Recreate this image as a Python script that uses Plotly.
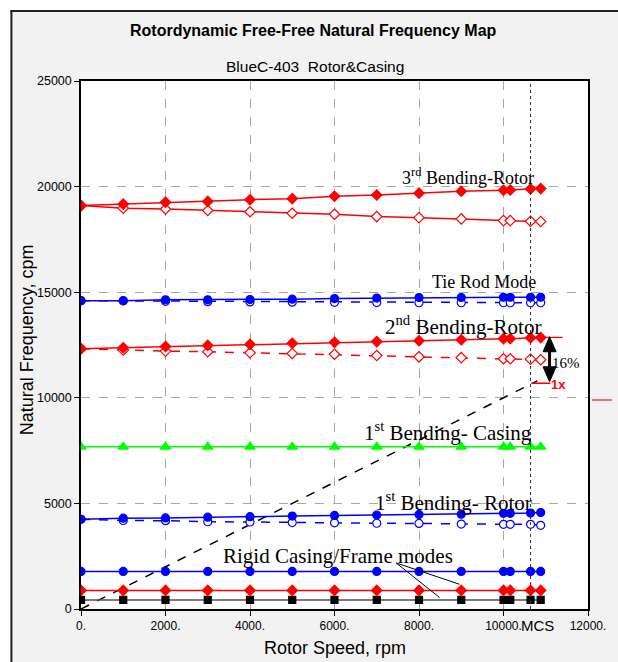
import plotly.graph_objects as go

# Rotor speed stations (rpm)
speed = [0, 1000, 2000, 3000, 4000, 5000, 6000, 7000, 8000, 9000, 10000, 10160, 10640, 10880]
mcs = 10640

# Rigid casing / frame modes (cpm)
rigid_black = [430, 430, 430, 430, 430, 430, 430, 430, 430, 430, 430, 430, 430, 430]
rigid_red = [880, 880, 880, 880, 880, 880, 880, 880, 880, 880, 880, 880, 880, 880]
rigid_blue = [1780, 1780, 1780, 1780, 1780, 1780, 1780, 1780, 1780, 1780, 1780, 1780, 1780, 1780]

# 1st bending - rotor (forward / backward)
bend1_fw = [4250, 4300, 4310, 4350, 4370, 4400, 4430, 4450, 4480, 4490, 4530, 4530, 4540, 4570]
bend1_bw = [4250, 4190, 4180, 4130, 4120, 4090, 4080, 4060, 4050, 4020, 4010, 4010, 4010, 3960]

# 1st bending - casing
casing1 = [7680, 7680, 7680, 7680, 7680, 7680, 7680, 7680, 7680, 7680, 7680, 7680, 7680, 7680]

# 2nd bending - rotor
bend2_fw = [12320, 12370, 12430, 12480, 12530, 12580, 12625, 12660, 12700, 12750, 12800, 12800, 12840, 12850]
bend2_bw = [12320, 12260, 12210, 12180, 12130, 12100, 12060, 12000, 11940, 11900, 11850, 11850, 11830, 11800]

# Tie rod mode
tierod_fw = [14600, 14600, 14640, 14640, 14650, 14670, 14700, 14720, 14750, 14750, 14760, 14760, 14760, 14760]
tierod_bw = [14600, 14590, 14570, 14550, 14540, 14530, 14520, 14510, 14500, 14500, 14500, 14500, 14500, 14500]

# 3rd bending - rotor
bend3_fw = [19100, 19170, 19260, 19300, 19380, 19430, 19540, 19600, 19690, 19780, 19830, 19840, 19890, 19905]
bend3_bw = [19100, 18980, 18940, 18870, 18810, 18740, 18690, 18580, 18530, 18470, 18390, 18390, 18360, 18350]

# 1x synchronous excitation line
speed_1x = [0, 10800]
freq_1x = [0, 10800]

# Axis ticks
x_ticks = [0, 2000, 4000, 6000, 8000, 10000, 12000]
x_labels = ["0.", "2000.", "4000.", "6000.", "8000.", "10000.", "12000."]
y_ticks = [0, 5000, 10000, 15000, 20000, 25000]
y_labels = ["0", "5000", "10000", "15000", "20000", "25000"]

# Separation-margin markup near MCS
margin_x = 11090
margin_top = 12890
margin_bot = 10760
bend2_ext = [10880, 11400]
bend2_ext_y = 12860
red1x_x = [10660, 11110]
red1x_y = 10690

SANS = "Liberation Sans"
SERIF = "Liberation Serif"

W, H = 618, 662
L, R, T, B = 81, 27, 81, 53
PW, PH = W - L - R, H - T - B


def px(xp):
    return (xp - L) / PW


def py(yp):
    return (H - B - yp) / PH


fig = go.Figure()


def series(y, color, symbol, size, filled=True, dash="solid", lc=None):
    fig.add_trace(go.Scatter(
        x=speed, y=y, mode="lines+markers",
        line=dict(color=lc or color, width=1.5, dash=dash),
        marker=dict(symbol=symbol, size=size,
                    color=color if filled else "white",
                    line=dict(color=color, width=1.2)),
        showlegend=False, hoverinfo="skip",
    ))


# 1x line
fig.add_trace(go.Scatter(x=speed_1x, y=freq_1x, mode="lines",
                         line=dict(color="black", width=1.5, dash="dash"),
                         showlegend=False, hoverinfo="skip"))

series(rigid_black, "black", "square", 7, lc="#505050")
series(rigid_red, "#ff0000", "diamond", 8)
series(rigid_blue, "#0000ff", "circle", 8)
series(bend1_bw, "#0000ff", "circle", 8, filled=False, dash="dash")
series(bend1_fw, "#0000ff", "circle", 8)
series(casing1, "#00ff00", "triangle-up", 9)
series(bend2_bw, "#ff0000", "diamond", 8, filled=False, dash="dash")
series(bend2_fw, "#ff0000", "diamond", 8)
series(tierod_bw, "#0000ff", "circle", 8, filled=False, dash="dash")
series(tierod_fw, "#0000ff", "circle", 8)
series(bend3_bw, "#ff0000", "diamond", 8, filled=False)
series(bend3_fw, "#ff0000", "diamond", 8)

shapes = []
# outer chart frame
shapes.append(dict(type="rect", xref="paper", yref="paper", x0=px(-5), x1=px(10), y0=py(-5), y1=py(H + 5),
                   fillcolor="white", line=dict(width=0), layer="above"))
shapes.append(dict(type="rect", xref="paper", yref="paper", x0=px(-5), x1=px(W + 5), y0=py(10), y1=py(-5),
                   fillcolor="white", line=dict(width=0), layer="above"))
shapes.append(dict(type="line", xref="paper", yref="paper", x0=px(11), x1=px(11), y0=py(10), y1=py(H + 5),
                   line=dict(color="#222222", width=2)))
shapes.append(dict(type="line", xref="paper", yref="paper", x0=px(10), x1=px(W + 5), y0=py(11), y1=py(11),
                   line=dict(color="#222222", width=2)))
# MCS marker line
shapes.append(dict(type="line", xref="x", yref="y", x0=mcs, x1=mcs, y0=0, y1=25000,
                   line=dict(color="#333333", width=1, dash="dot")))
# 2nd bending extension to the margin arrow
shapes.append(dict(type="line", xref="x", yref="y", x0=bend2_ext[0], x1=bend2_ext[1], y0=bend2_ext_y, y1=bend2_ext_y,
                   line=dict(color="#ff0000", width=1.3)))
# red 1x marker
shapes.append(dict(type="line", xref="x", yref="y", x0=red1x_x[0], x1=red1x_x[1], y0=red1x_y, y1=red1x_y,
                   line=dict(color="#ff0000", width=1.5)))
# double arrow for separation margin
shapes.append(dict(type="line", xref="x", yref="y", xsizemode="pixel", ysizemode="pixel",
                   xanchor=margin_x, yanchor=margin_top, x0=0, x1=0, y0=-10, y1=-35,
                   line=dict(color="black", width=3)))
shapes.append(dict(type="path", xref="x", yref="y", xsizemode="pixel", ysizemode="pixel",
                   xanchor=margin_x, yanchor=margin_top, path="M 0 0 L -6.5 -15 L 6.5 -15 Z",
                   fillcolor="black", line=dict(color="black", width=1)))
shapes.append(dict(type="path", xref="x", yref="y", xsizemode="pixel", ysizemode="pixel",
                   xanchor=margin_x, yanchor=margin_bot, path="M 0 0 L -6.5 15 L 6.5 15 Z",
                   fillcolor="black", line=dict(color="black", width=1)))
# leader lines for rigid modes label
shapes.append(dict(type="line", xref="x", yref="y", x0=7460, y0=2180, x1=8960, y1=1170,
                   line=dict(color="black", width=1)))
shapes.append(dict(type="line", xref="x", yref="y", x0=7460, y0=2180, x1=8490, y1=540,
                   line=dict(color="black", width=1)))
# stray legend line at the right edge
shapes.append(dict(type="line", xref="paper", yref="paper", x0=px(595), x1=px(615), y0=py(400), y1=py(400),
                   line=dict(color="#ff4040", width=1.5)))

annotations = []


def note(text, x, y, size, font=SERIF, color="black", xref="x", yref="y", **kw):
    annotations.append(dict(text=text, x=x, y=y, xref=xref, yref=yref, showarrow=False,
                            xanchor="center", yanchor="middle",
                            font=dict(family=font, size=size, color=color), **kw))


note("3<sup>rd</sup> Bending-Rotor", 9150, 20490, 18)
note("Tie Rod Mode", 9530, 15480, 18)
note("2<sup>nd</sup> Bending-Rotor", 9035, 13430, 21)
note("1<sup>st</sup> Bending- Casing", 8690, 8390, 21)
note("1<sup>st</sup> Bending- Rotor", 8810, 5070, 21)
note("Rigid Casing/Frame modes", 6090, 2500, 21)
note("16%", 11480, 11660, 15)
note("<b>1x</b>", 11290, 10650, 13, font=SANS, color="#ff0000")
note("MCS", px(540), py(625), 15, font=SANS, xref="paper", yref="paper")
note("<b>Rotordynamic Free-Free Natural Frequency Map</b>", px(315), py(31), 16, font=SANS,
     xref="paper", yref="paper")
note("BlueC-403  Rotor&amp;Casing", px(316), py(67), 15.5, font=SANS, xref="paper", yref="paper")
note("Rotor Speed, rpm", px(336), py(648), 18, font=SANS, xref="paper", yref="paper")
note("Natural Frequency, cpm", px(27), py(340), 18, font=SANS, xref="paper", yref="paper", textangle=-90)

axis_common = dict(showline=True, linecolor="black", linewidth=1.5, mirror=True,
                   ticks="outside", ticklen=5, tickcolor="black", tickwidth=1,
                   showgrid=True, gridcolor="#a6a6a6", gridwidth=1, griddash="dash",
                   zeroline=False, fixedrange=True)

fig.update_layout(
    width=W, height=H, autosize=False,
    margin=dict(l=L, r=R, t=T, b=B, pad=0),
    paper_bgcolor="#f2f2f2", plot_bgcolor="white",
    shapes=shapes, annotations=annotations,
    xaxis=dict(range=[0, 12000], tickvals=x_ticks, ticktext=x_labels,
               tickfont=dict(family=SANS, size=12, color="black"), **axis_common),
    yaxis=dict(range=[0, 25000], tickvals=y_ticks, ticktext=y_labels,
               tickfont=dict(family=SANS, size=12.5, color="black"), **axis_common),
)

fig.write_html("out.html")
